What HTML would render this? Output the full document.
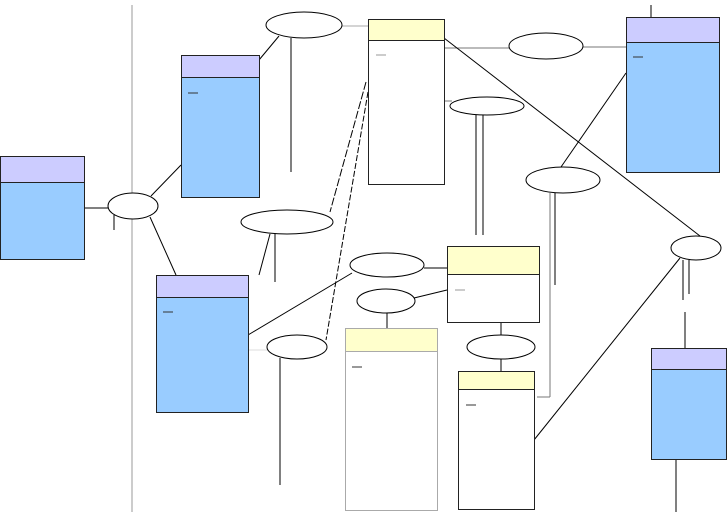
<!DOCTYPE html>
<html><head><style>body{margin:0;background:#fff}svg{display:block}</style></head><body>
<svg width="728" height="512" viewBox="0 0 728 512" xmlns="http://www.w3.org/2000/svg" font-family="Liberation Sans, sans-serif">
<g stroke="#000" stroke-width="1" fill="none">
<line x1="132" y1="5" x2="132" y2="512" stroke="#999"/>
<line x1="84" y1="208" x2="108" y2="208"/>
<line x1="114" y1="215" x2="114" y2="230"/>
<line x1="151" y1="196" x2="181" y2="165"/>
<line x1="150" y1="217" x2="176" y2="275"/>
<line x1="259" y1="60" x2="279" y2="36"/>
<line x1="291" y1="38" x2="291" y2="172"/>
<line x1="342" y1="26" x2="368" y2="26" stroke="#aaa"/>
<line x1="444" y1="48" x2="509" y2="48" stroke="#777"/>
<line x1="583" y1="47" x2="626" y2="47" stroke="#777"/>
<line x1="444" y1="101" x2="452" y2="101" stroke="#777"/>
<line x1="444" y1="38" x2="700" y2="236"/>
<line x1="626" y1="73" x2="561" y2="167"/>
<line x1="476" y1="115" x2="476" y2="235"/>
<line x1="483" y1="115" x2="483" y2="235"/>
<line x1="555" y1="193" x2="555" y2="285"/>
<line x1="550" y1="193" x2="550" y2="397" stroke="#777"/>
<line x1="537" y1="397" x2="550" y2="397" stroke="#777"/>
<line x1="366" y1="82" x2="330" y2="212" stroke-dasharray="8,2"/>
<line x1="368" y1="92" x2="326" y2="340" stroke-dasharray="6,2"/>
<line x1="270" y1="234" x2="259" y2="275"/>
<line x1="275" y1="234" x2="275" y2="282"/>
<line x1="248" y1="335" x2="352" y2="273"/>
<line x1="248" y1="350" x2="268" y2="350" stroke="#ddd"/>
<line x1="424" y1="268" x2="447" y2="268"/>
<line x1="414" y1="298" x2="447" y2="290"/>
<line x1="387" y1="313" x2="387" y2="333"/>
<line x1="280" y1="358" x2="280" y2="485"/>
<line x1="501" y1="322" x2="501" y2="335"/>
<line x1="501" y1="359" x2="501" y2="371"/>
<line x1="534" y1="440" x2="680" y2="258"/>
<line x1="683" y1="260" x2="683" y2="300"/>
<line x1="689" y1="260" x2="689" y2="294"/>
<line x1="685" y1="312" x2="685" y2="348"/>
<line x1="676" y1="459" x2="676" y2="512"/>
<line x1="651" y1="5" x2="651" y2="17"/>
</g>
<g stroke="#222" stroke-width="1">
<rect x="0.5" y="156.5" width="84" height="103" fill="#99ccff"/>
<rect x="0.5" y="156.5" width="84" height="26" fill="#ccccff"/>
<rect x="181.5" y="55.5" width="78" height="142" fill="#99ccff"/>
<rect x="181.5" y="55.5" width="78" height="22" fill="#ccccff"/>
<rect x="368.5" y="19.5" width="76" height="165" fill="#fff"/>
<rect x="368.5" y="19.5" width="76" height="21" fill="#ffffcc"/>
<rect x="626.5" y="17.5" width="93" height="155" fill="#99ccff"/>
<rect x="626.5" y="17.5" width="93" height="25" fill="#ccccff"/>
<rect x="447.5" y="246.5" width="92" height="76" fill="#fff"/>
<rect x="447.5" y="246.5" width="92" height="28" fill="#ffffcc"/>
<rect x="156.5" y="275.5" width="92" height="137" fill="#99ccff"/>
<rect x="156.5" y="275.5" width="92" height="22" fill="#ccccff"/>
<rect x="345.5" y="328.5" width="92" height="182" fill="#fff" stroke="#aaa"/>
<rect x="345.5" y="328.5" width="92" height="23" fill="#ffffcc" stroke="#aaa"/>
<rect x="458.5" y="371.5" width="76" height="138" fill="#fff"/>
<rect x="458.5" y="371.5" width="76" height="18" fill="#ffffcc"/>
<rect x="651.5" y="348.5" width="75" height="111" fill="#99ccff"/>
<rect x="651.5" y="348.5" width="75" height="21" fill="#ccccff"/>
</g>
<g stroke="#333">
<line x1="188" y1="93" x2="198" y2="93"/><line x1="376" y1="55" x2="386" y2="55" stroke="#999"/>
<line x1="633" y1="57" x2="643" y2="57"/><line x1="455" y1="290" x2="465" y2="290" stroke="#999"/>
<line x1="163" y1="312" x2="173" y2="312"/><line x1="352" y1="367" x2="362" y2="367"/>
<line x1="466" y1="405" x2="476" y2="405"/>
</g>
<g stroke="#000" fill="#fff">
<ellipse cx="133" cy="206" rx="25" ry="13"/>
<ellipse cx="304" cy="25" rx="38" ry="13"/>
<ellipse cx="546" cy="46" rx="37" ry="13"/>
<ellipse cx="487" cy="106" rx="37" ry="9"/>
<ellipse cx="287" cy="222" rx="46" ry="12"/>
<ellipse cx="563" cy="180" rx="37" ry="13"/>
<ellipse cx="387" cy="265" rx="37" ry="12"/>
<ellipse cx="386" cy="301" rx="29" ry="12"/>
<ellipse cx="297" cy="347" rx="30" ry="12"/>
<ellipse cx="501" cy="347" rx="34" ry="12"/>
<ellipse cx="696" cy="248" rx="25" ry="12"/>
</g>
</svg>
</body></html>
